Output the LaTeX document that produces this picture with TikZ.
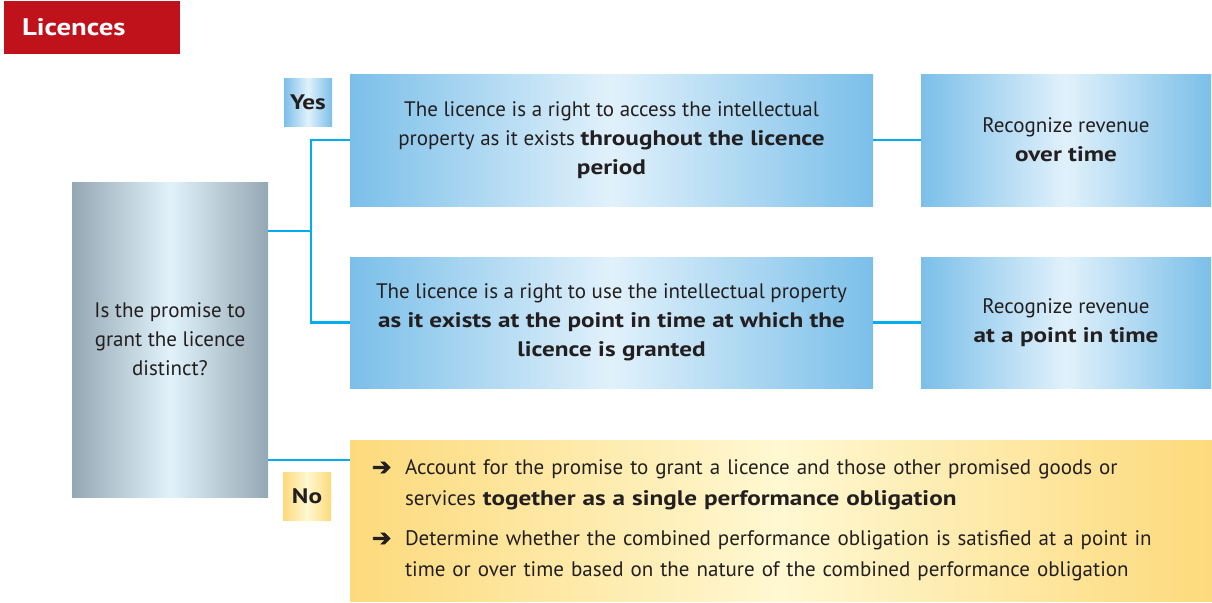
\documentclass[tikz,border=0pt]{standalone}
\usepackage{fontspec}
\setmainfont{PT Sans}[BoldFeatures={FakeStretch=1.2}]
\newfontfamily\symboles{DejaVu Sans}[FakeBold=3]
\definecolor{rouge}{HTML}{C0121B}
\definecolor{bleu}{HTML}{7BBFE9}
\definecolor{bleuclair}{HTML}{E1F1FB}
\definecolor{gris}{HTML}{94A8B3}
\definecolor{grisclair}{HTML}{E1F2FB}
\definecolor{jaune}{HTML}{FDDA7C}
\definecolor{jauneclair}{HTML}{FFF8D2}
\definecolor{trait}{HTML}{00AEEF}
\definecolor{texte}{HTML}{231F20}
\newcommand{\puce}{\makebox[33pt][l]{\symboles\fontsize{23}{23}\selectfont ➔}}

\begin{document}
\begin{tikzpicture}[x=1pt,y=-1pt]

  % Styles des boites
  \tikzstyle{boite} = [rectangle, inner sep=0pt, align=center, text=texte, font=\fontsize{21}{29}\selectfont]
  \tikzstyle{bleue} = [boite, left color=bleu, right color=bleu, middle color=bleuclair]
  \tikzstyle{grise} = [boite, left color=gris, right color=gris, middle color=grisclair]
  \tikzstyle{jaune} = [boite, left color=jaune, right color=jaune, middle color=jauneclair]
  \tikzstyle{lien} = [draw=trait, line width=2.8pt]

  \useasboundingbox (0,0) rectangle (1212,602);

  % Titre
  \node[fill=rouge, text=white, inner xsep=18pt, text width=140pt, minimum height=53pt, align=left, font=\fontsize{24}{30}\selectfont\bfseries] (titre) at (92,27.5) {Licences};

  % Liste des boites
  \node[grise, minimum width=196pt, minimum height=315pt] (question) at (170,339.5) {Is the promise to\\grant the licence\\distinct?};
  \node[bleue, minimum width=523pt, minimum height=132pt] (acces) at (611.5,140) {The licence is a right to access the intellectual\\property as it exists \textbf{throughout the licence}\\\textbf{period}};
  \node[bleue, minimum width=290pt, minimum height=132pt] (continu) at (1066,140) {Recognize revenue\\\textbf{over time}};
  \node[bleue, minimum width=523pt, minimum height=131pt] (usage) at (611.5,322.5) {The licence is a right to use the intellectual property\\\textbf{as it exists at the point in time at which the}\\\textbf{licence is granted}};
  \node[bleue, minimum width=290pt, minimum height=131pt] (instant) at (1066,322.5) {Recognize revenue\\\textbf{at a point in time}};
  \node[jaune, minimum width=862pt, minimum height=161pt, inner xsep=22pt, text width=818pt, align=left, font=\fontsize{21}{31}\selectfont] (combine) at (781,520.5) {\puce Account for the promise to grant a licence and those other promised goods or\\
    \hspace*{33pt}services \textbf{together as a single performance obligation}\\[9pt]
    \puce Determine whether the combined performance obligation is satisfied at a point in\\
    \hspace*{33pt}time or over time based on the nature of the combined performance obligation};

  % Oui / Non
  \node[bleue, minimum size=48pt, font=\fontsize{21}{25}\selectfont\bfseries] (oui) at (308,102) {Yes};
  \node[jaune, minimum size=48pt, font=\fontsize{21}{25}\selectfont\bfseries] (non) at (307,496) {No};

  % Liens
  \coordinate (fourche) at (311,231);
  \coordinate (depart) at (268,460);
  \draw[lien] (question.east |- fourche) -- (fourche);
  \draw[lien] (acces.west) -| (fourche) |- (usage.west);
  \draw[lien] (acces.east) -- (continu.west);
  \draw[lien] (usage.east) -- (instant.west);
  \draw[lien] (depart) -- (depart -| combine.west);

\end{tikzpicture}
\end{document}
